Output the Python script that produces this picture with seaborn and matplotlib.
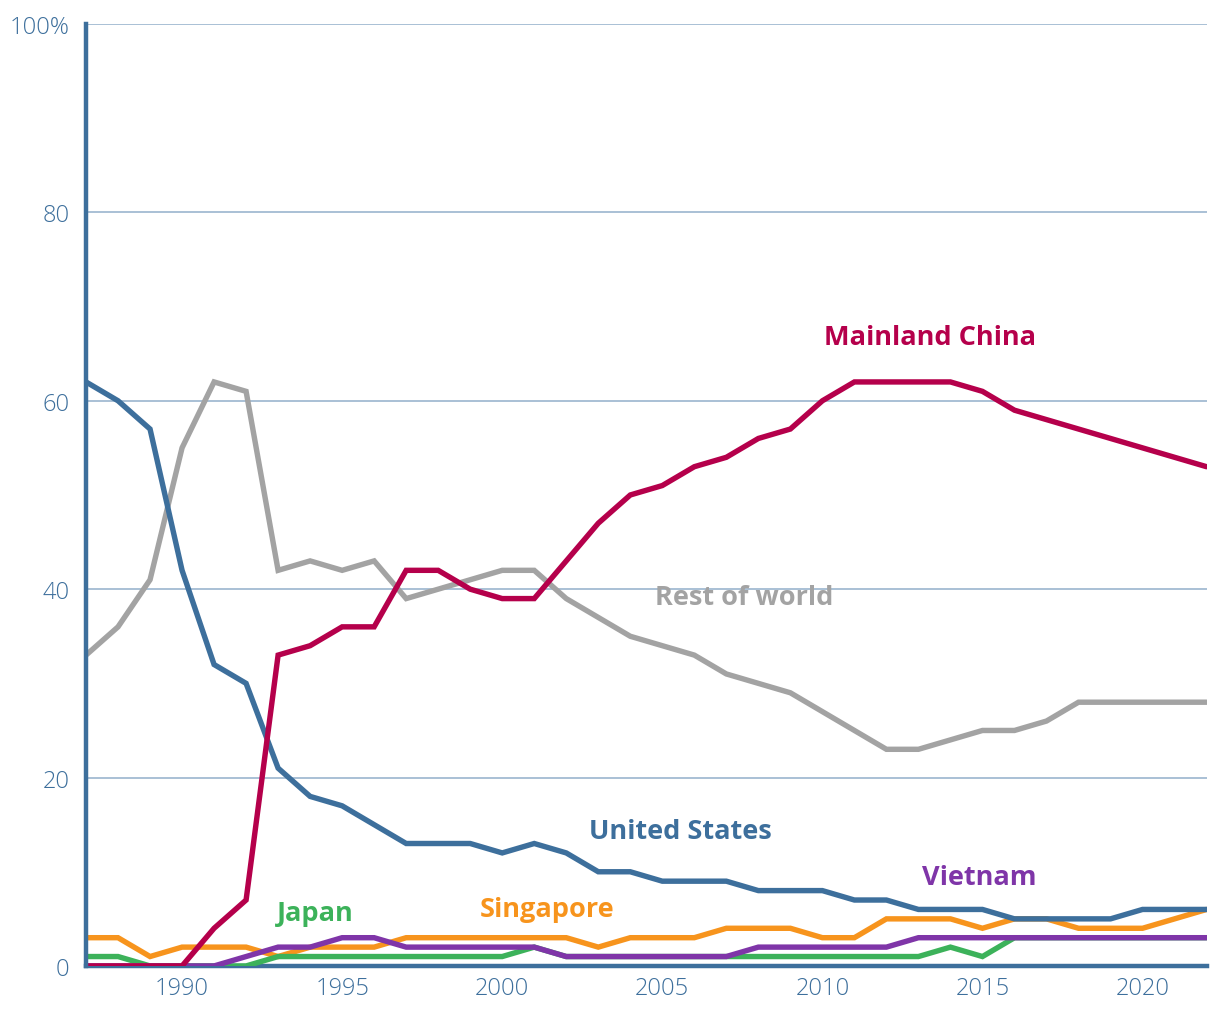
import pandas as pd
import numpy as np
import matplotlib
matplotlib.use("Agg")
import matplotlib.pyplot as plt
import seaborn as sns

# ==========================================
# DATA (share of production, %)
# ==========================================

years = list(range(1987, 2023))

rest_of_world = [33, 36, 41, 55, 62, 61, 42, 43, 42, 43, 39, 40, 41, 42, 42, 39, 37, 35,
                 34, 33, 31, 30, 29, 27, 25, 23, 23, 24, 25, 25, 26, 28, 28, 28, 28, 28]
singapore = [3, 3, 1, 2, 2, 2, 1, 2, 2, 2, 3, 3, 3, 3, 3, 3, 2, 3,
             3, 3, 4, 4, 4, 3, 3, 5, 5, 5, 4, 5, 5, 4, 4, 4, 5, 6]
japan = [1, 1, 0, 0, 0, 0, 1, 1, 1, 1, 1, 1, 1, 1, 2, 1, 1, 1,
         1, 1, 1, 1, 1, 1, 1, 1, 1, 2, 1, 3, 3, 3, 3, 3, 3, 3]
vietnam = [0, 0, 0, 0, 0, 1, 2, 2, 3, 3, 2, 2, 2, 2, 2, 1, 1, 1,
           1, 1, 1, 2, 2, 2, 2, 2, 3, 3, 3, 3, 3, 3, 3, 3, 3, 3]
united_states = [62, 60, 57, 42, 32, 30, 21, 18, 17, 15, 13, 13, 13, 12, 13, 12, 10, 10,
                 9, 9, 9, 8, 8, 8, 7, 7, 6, 6, 6, 5, 5, 5, 5, 6, 6, 6]
mainland_china = [0, 0, 0, 0, 4, 7, 33, 34, 36, 36, 42, 42, 40, 39, 39, 43, 47, 50,
                  51, 53, 54, 56, 57, 60, 62, 62, 62, 62, 61, 59, 58, 57, 56, 55, 54, 53]

series = ["Rest of world", "Singapore", "Japan", "Vietnam", "United States", "Mainland China"]
values = [rest_of_world, singapore, japan, vietnam, united_states, mainland_china]

colors = {
    "Rest of world": "#a3a3a3",
    "Singapore": "#f7941d",
    "Japan": "#3cb25a",
    "Vietnam": "#7f35a8",
    "United States": "#3d6f9c",
    "Mainland China": "#b5004b",
}

df = pd.DataFrame({
    "Year": years * len(series),
    "Share": sum(values, []),
    "Country": np.repeat(series, len(years)),
})

# ==========================================
# PLOT
# ==========================================

sns.set_theme(style="white")
plt.rcParams["font.family"] = ["Open Sans", "DejaVu Sans"]

axis_blue = "#3d6f9c"

fig = plt.figure(figsize=(12.2, 10.2), dpi=100)
ax = fig.add_axes([0.0705, 0.052, 0.9185, 0.9235])

for y in [20, 40, 60, 80, 100]:
    ax.axhline(y, color="#a2bbd2", lw=1.3, zorder=0)

sns.lineplot(
    data=df,
    x="Year",
    y="Share",
    hue="Country",
    hue_order=series,
    palette=colors,
    linewidth=3.9,
    legend=False,
    ax=ax,
)
for line in ax.get_lines():
    line.set_solid_capstyle("round")
    line.set_solid_joinstyle("miter")

ax.set_xlim(1987, 2022)
ax.set_ylim(0, 100)
ax.set_xticks([1990, 1995, 2000, 2005, 2010, 2015, 2020])
ax.set_yticks([0, 20, 40, 60, 80, 100])
ax.set_yticklabels(["0", "20", "40", "60", "80", "100%"])
ax.set_xlabel("")
ax.set_ylabel("")
ax.tick_params(axis="both", length=0, labelsize=17, labelcolor=axis_blue, colors=axis_blue)
ax.tick_params(axis="x", pad=7)
ax.tick_params(axis="y", pad=12)
for lbl in ax.get_xticklabels() + ax.get_yticklabels():
    lbl.set_fontweight("light")

for side in ["top", "right"]:
    ax.spines[side].set_visible(False)
for side in ["left", "bottom"]:
    ax.spines[side].set_color(axis_blue)
    ax.spines[side].set_linewidth(3.2)
ax.spines["bottom"].set_zorder(1)

# series labels
labels = [
    ("Mainland China", 2013.35, 66.8),
    ("Rest of world", 2007.57, 39.2),
    ("United States", 2005.55, 14.3),
    ("Vietnam", 2014.9, 9.45),
    ("Japan", 1994.15, 5.6),
    ("Singapore", 2001.4, 6.05),
]
for name, x, y in labels:
    ax.text(x, y, name, color=colors[name], fontsize=19.5, fontweight="bold",
            ha="center", va="center")

fig.savefig("out.png", dpi=100)
